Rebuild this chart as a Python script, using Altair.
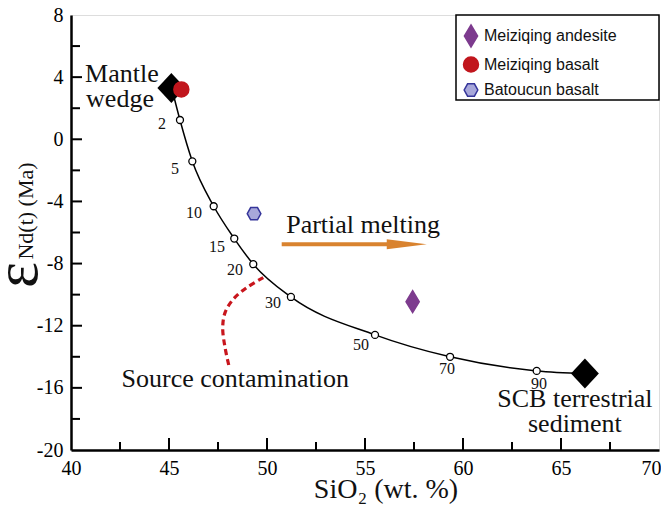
import altair as alt
import pandas as pd

# ---------------- data ----------------
# mixing curve (mantle wedge -> SCB terrestrial sediment)
curve_x = [45.15, 45.56, 46.19, 47.28, 48.33, 49.30, 51.22, 55.51, 59.34, 63.76, 66.22]
curve_y = [3.25, 1.24, -1.42, -4.31, -6.39, -8.04, -10.15, -12.59, -14.00, -14.91, -15.08]

# mixing percentage marks (open circles)
mix_x = [45.56, 46.19, 47.28, 48.33, 49.30, 51.22, 55.51, 59.34, 63.76]
mix_y = [1.24, -1.42, -4.31, -6.39, -8.04, -10.15, -12.59, -14.00, -14.91]
mix_lab = ["2", "5", "10", "15", "20", "30", "50", "70", "90"]
mix_lab_x = [44.64, 45.31, 46.28, 47.45, 48.37, 50.31, 54.80, 59.18, 63.88]
mix_lab_y = [0.99, -1.91, -4.74, -6.93, -8.41, -10.53, -13.24, -14.78, -15.75]

# end members
end_name = ["Mantle wedge", "SCB terrestrial sediment"]
end_x = [45.12, 66.22]
end_y = [3.30, -15.08]

# samples
sample_type = ["Meiziqing andesite", "Meiziqing basalt", "Batoucun basalt"]
sample_x = [57.43, 45.63, 49.34]
sample_y = [-10.45, 3.21, -4.79]
sample_fill = ["#7D3B8E", "#C1161D", "#A8A8DA"]
sample_stroke = ["#7D3B8E", "#C1161D", "#35359A"]
sample_shape = [
    "M0,-1L0.6,0L0,1L-0.6,0Z",
    "M0.68,0A0.68,0.68,0,1,1,-0.68,0A0.68,0.68,0,1,1,0.68,0Z",
    "M0.62,0L0.31,0.56L-0.31,0.56L-0.62,0L-0.31,-0.56L0.31,-0.56Z",
]

# source contamination trend (dashed)
cont_x = [49.81, 48.96, 48.28, 47.86, 47.74, 47.86, 48.08]
cont_y = [-8.90, -9.55, -10.29, -11.16, -12.12, -13.41, -14.70]

# partial melting arrow
arrow_x = [50.75, 56.30]
arrow_y = [-6.76, -6.76]
arrow_head_x = [57.13]
arrow_head_y = [-6.76]

# annotations
ann_text = ["Mantle", "wedge", "Source contamination", "Partial melting"]
ann_x = [40.72, 40.77, 42.58, 50.98]
ann_y = [3.69, 2.08, -15.94, -6.01]
scb_text = ["SCB terrestrial", "sediment"]
scb_x = [65.71, 65.71]
scb_y = [-17.23, -18.83]

# axes
x_labels = [40, 45, 50, 55, 60, 65, 70]
y_labels = [-20, -16, -12, -8, -4, 0, 4, 8]
x_major = [45, 50, 55, 60, 65]
x_minor = [42.5, 47.5, 52.5, 57.5, 62.5, 67.5]
y_major = [-16, -12, -8, -4, 0, 4]
y_minor = [-18, -14, -10, -6, -2, 2, 6]

W, H = 588, 435
SERIF = "Liberation Serif"
SANS = "Liberation Sans"

xs = alt.Scale(domain=[40, 70], nice=False, zero=False)
ys = alt.Scale(domain=[-20, 8], nice=False, zero=False)

x_axis = alt.Axis(values=x_labels, ticks=False, grid=False, title=None,
                  domainColor="black", domainWidth=2.5,
                  labelFont=SERIF, labelFontSize=20, labelColor="black",
                  labelPadding=8, labelFlush=False, labelOverlap=False,
                  labelAlign={"condition": {"test": "datum.value == 70", "value": "right"}, "value": "center"},
                  labelOffset={"condition": {"test": "datum.value == 70", "value": 2}, "value": 0},
                  labelExpr="datum.value + ''")
y_axis = alt.Axis(values=y_labels, ticks=False, grid=False, title=None,
                  domainColor="black", domainWidth=2.5,
                  labelFont=SERIF, labelFontSize=20, labelColor="black",
                  labelPadding=8, labelFlush=False, labelOverlap=False,
                  labelExpr="datum.value + ''")

X = lambda f: alt.X(f, type="quantitative", scale=xs, axis=x_axis)
Y = lambda f: alt.Y(f, type="quantitative", scale=ys, axis=y_axis)

curve_df = pd.DataFrame({"x": curve_x, "y": curve_y})
mix_df = pd.DataFrame({"x": mix_x, "y": mix_y})
mixlab_df = pd.DataFrame({"x": mix_lab_x, "y": mix_lab_y, "t": mix_lab})
end_df = pd.DataFrame({"x": end_x, "y": end_y, "n": end_name})
samp_df = pd.DataFrame({"x": sample_x, "y": sample_y, "type": sample_type})
cont_df = pd.DataFrame({"x": cont_x, "y": cont_y, "o": list(range(len(cont_x)))})
arrow_df = pd.DataFrame({"x": arrow_x, "y": arrow_y})
head_df = pd.DataFrame({"x": arrow_head_x, "y": arrow_head_y})
ann_df = pd.DataFrame({"x": ann_x, "y": ann_y, "t": ann_text})
scb_df = pd.DataFrame({"x": scb_x, "y": scb_y, "t": scb_text})

layers = []

# tick marks (inward)
layers.append(alt.Chart(pd.DataFrame({"v": y_major})).mark_rule(color="black", strokeWidth=2)
              .encode(y=Y("v"), x=alt.value(0), x2=alt.value(11)))
layers.append(alt.Chart(pd.DataFrame({"v": y_minor})).mark_rule(color="black", strokeWidth=2)
              .encode(y=Y("v"), x=alt.value(0), x2=alt.value(9)))
layers.append(alt.Chart(pd.DataFrame({"v": x_major})).mark_rule(color="black", strokeWidth=2)
              .encode(x=X("v"), y=alt.value(H), y2=alt.value(H - 12)))
layers.append(alt.Chart(pd.DataFrame({"v": x_minor})).mark_rule(color="black", strokeWidth=2)
              .encode(x=X("v"), y=alt.value(H), y2=alt.value(H - 8)))

# legend box
layers.append(alt.Chart(pd.DataFrame({"a": [0]})).mark_rect(fill="white", stroke="black", strokeWidth=1.5)
              .encode(x=alt.value(385), x2=alt.value(W), y=alt.value(0), y2=alt.value(85)))

# mixing curve
layers.append(alt.Chart(curve_df).mark_line(color="black", strokeWidth=1.5, interpolate="monotone")
              .encode(x=X("x"), y=Y("y")))
# contamination dashed
layers.append(alt.Chart(cont_df).mark_line(color="#C8161D", strokeWidth=3.2, strokeDash=[6, 4],
                                           interpolate="catmull-rom")
              .encode(x=X("x"), y=Y("y"), order="o:Q"))
# arrow
layers.append(alt.Chart(arrow_df).mark_line(color="#D9832F", strokeWidth=4)
              .encode(x=X("x"), y=Y("y")))
layers.append(alt.Chart(head_df).mark_point(shape="M-1,-0.25L1,0L-1,0.25Z", size=1600, filled=True,
                                            color="#D9832F", opacity=1)
              .encode(x=X("x"), y=Y("y")))
# open circles
layers.append(alt.Chart(mix_df).mark_point(shape="circle", size=49, fill="white", stroke="black",
                                           strokeWidth=1.3, opacity=1)
              .encode(x=X("x"), y=Y("y")))
# end-member diamonds
layers.append(alt.Chart(end_df).mark_point(shape="M0,-1L0.93,0L0,1L-0.93,0Z", size=900, filled=True,
                                           color="black", opacity=1)
              .encode(x=X("x"), y=Y("y")))

# samples
leg = alt.Legend(title=None, orient="none", legendX=388, legendY=9, padding=0,
                 labelFont=SANS, labelFontSize=16, labelColor="#111", labelOffset=1,
                 symbolSize=484, symbolStrokeWidth=1.5, rowPadding=2.5)
layers.append(alt.Chart(samp_df).mark_point(filled=True, size=484, strokeWidth=1.5, opacity=1)
              .encode(x=X("x"), y=Y("y"),
                      shape=alt.Shape("type:N", scale=alt.Scale(domain=sample_type, range=sample_shape), legend=leg),
                      fill=alt.Fill("type:N", scale=alt.Scale(domain=sample_type, range=sample_fill), legend=leg),
                      stroke=alt.Stroke("type:N", scale=alt.Scale(domain=sample_type, range=sample_stroke), legend=leg)))

# labels on curve
layers.append(alt.Chart(mixlab_df).mark_text(font=SERIF, fontSize=16, color="#111", align="center",
                                             baseline="middle")
              .encode(x=X("x"), y=Y("y"), text="t:N"))
# annotations
layers.append(alt.Chart(ann_df).mark_text(font=SERIF, fontSize=26, color="#111", align="left",
                                          baseline="alphabetic")
              .encode(x=X("x"), y=Y("y"), text="t:N"))
layers.append(alt.Chart(scb_df).mark_text(font=SERIF, fontSize=26, color="#111", align="center",
                                          baseline="alphabetic")
              .encode(x=X("x"), y=Y("y"), text="t:N"))

# axis titles
layers.append(alt.Chart(pd.DataFrame({"t": ["SiO₂ (wt. %)"]}))
              .mark_text(font=SERIF, fontSize=28, color="#111", align="center", baseline="alphabetic")
              .encode(x=alt.value(315), y=alt.value(483), text="t:N"))
layers.append(alt.Chart(pd.DataFrame({"t": ["ε"]}))
              .mark_text(font=SERIF, fontSize=62, color="#111", align="center", baseline="alphabetic", angle=270)
              .encode(x=alt.value(-34), y=alt.value(260), text="t:N"))
layers.append(alt.Chart(pd.DataFrame({"t": ["Nd(t) (Ma)"]}))
              .mark_text(font=SERIF, fontSize=22, color="#111", align="center", baseline="alphabetic", angle=270)
              .encode(x=alt.value(-38), y=alt.value(196), text="t:N"))

chart = alt.layer(*layers).properties(
    width=W, height=H, autosize="none",
    padding={"left": 63, "top": 7, "right": 2, "bottom": 60},
).configure_view(stroke="black", strokeWidth=2.5).configure(background="white")

chart.save("out.html", embed_options={"renderer": "svg", "actions": False})
